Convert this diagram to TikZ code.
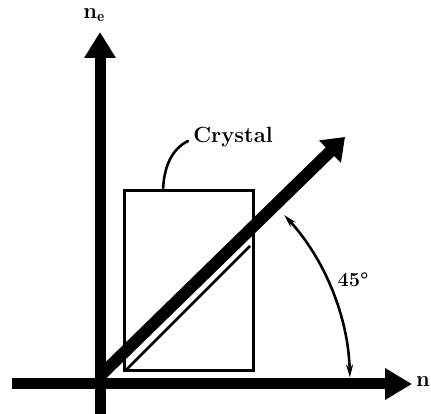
\documentclass[tikz,border=0pt]{standalone}
\usepackage{fontspec}
\usetikzlibrary{arrows.meta}
\tikzset{
  axis/.style={line width=11pt},
  beam/.style={line width=12pt},
  thinbeam/.style={line width=2.5pt},
  crystalbox/.style={line width=3pt},
  leader/.style={line width=2.6pt, line cap=round},
  anglearc/.style={line width=2.6pt, {Stealth[length=13pt,width=7pt]}-{Stealth[length=13pt,width=7pt]}},
  lbl/.style={font=\fontsize{22}{24}\selectfont\bfseries, inner sep=0pt},
}
\begin{document}
\begin{tikzpicture}[x=1pt,y=1pt]
\useasboundingbox (0,0) rectangle (431,414);
% coordinates
\coordinate (O) at (100,30);
\coordinate (vbot) at (100,0);
\coordinate (vtop) at (100,382);
\coordinate (hleft) at (12,30);
\coordinate (hright) at (412,30);
\coordinate (bstart) at (102,40);
\coordinate (btip) at (345,277);
\coordinate (tstart) at (125,43);
\coordinate (tend) at (250,168);
% crystal
\node[draw, crystalbox, minimum width=129pt, minimum height=180pt, inner sep=0pt, anchor=south west] (box) at (123,42) {};
% axes
\draw[axis, -{Triangle[length=26pt,width=30pt]}] (vbot) -- (vtop);
\draw[axis, -{Triangle[length=27pt,width=30pt]}] (hleft) -- (hright);
% beam
\draw[thinbeam] (tstart) -- (tend);
\draw[beam, -{Triangle[length=21pt,width=30pt]}] (bstart) -- (btip);
% labels
\node[lbl] (crystal) at (233,277) {Crystal};
\coordinate (lead1) at (163,224);
\coordinate (lead2) at (188,273);
\draw[leader] (lead1) .. controls (164,248) and (172,265) .. (lead2);
\node[lbl] (nx) at (423,32) {n};
\node[lbl] (ny) at (94,399) {n$_{\mathbf e}$};
\node[lbl, font=\fontsize{20}{22}\selectfont\bfseries] (ang) at (353,134) {45°};
% angle arc
\draw[anglearc] (O) ++(1.5:250) coordinate (a1) arc[start angle=1.5, end angle=42.5, radius=250] coordinate (a2);
\end{tikzpicture}
\end{document}
